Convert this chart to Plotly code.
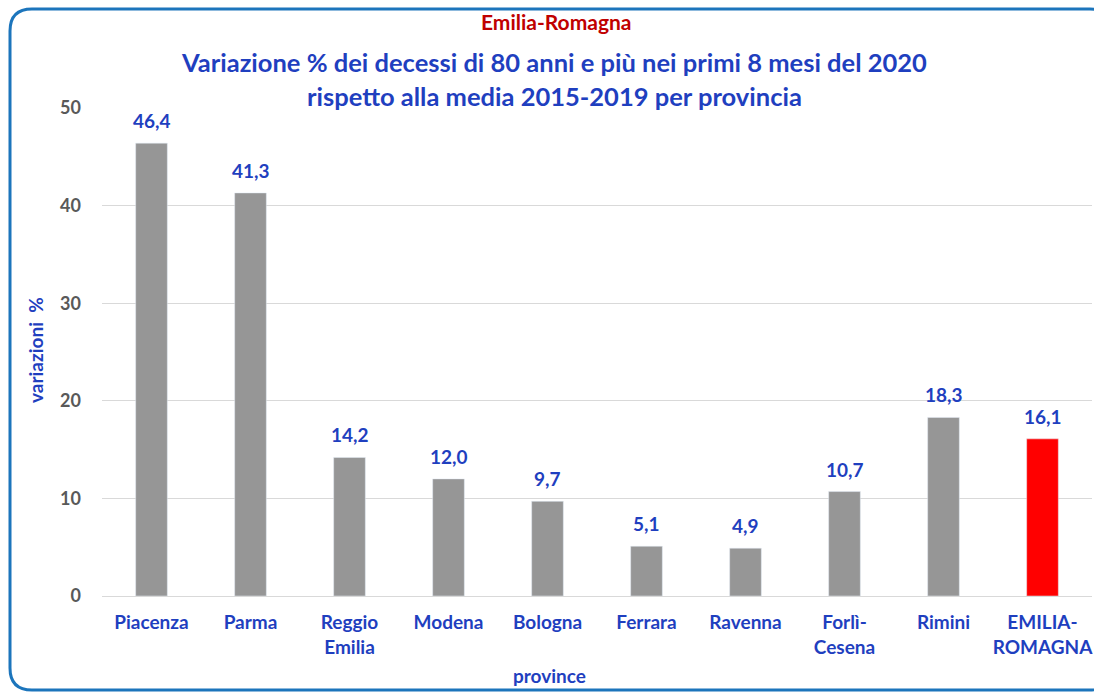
import plotly.graph_objects as go

categories = ["Piacenza", "Parma", "Reggio<br>Emilia", "Modena", "Bologna", "Ferrara",
              "Ravenna", "Forlì-<br>Cesena", "Rimini", "EMILIA-<br>ROMAGNA"]
values = [46.4, 41.3, 14.2, 12.0, 9.7, 5.1, 4.9, 10.7, 18.3, 16.1]
labels = ["46,4", "41,3", "14,2", "12,0", "9,7", "5,1", "4,9", "10,7", "18,3", "16,1"]
bar_colors = ["#969696"] * 9 + ["#FF0000"]
y_ticks = [0, 10, 20, 30, 40, 50]

W, H = 1094, 692
L, R, T, B = 102, 2, 108, 96
pw, ph = W - L - R, H - T - B

def px(x):
    return (x - L) / pw

def py(y):
    return (H - B - y) / ph

FONT = "Lato"
BLUE = "#1F3FBF"

fig = go.Figure()
fig.add_trace(go.Bar(
    x=categories, y=values, marker_color=bar_colors, width=0.32,
    hoverinfo="skip",
))

# rounded border (right and bottom edges run off the page, as in the reference)
x0, x1, y0, y1 = px(10), px(1112), py(9), py(690)
rx, ry = 22 / pw, 22 / ph
path = (f"M {x0+rx},{y0} L {x1-rx},{y0} Q {x1},{y0} {x1},{y0-ry} "
        f"L {x1},{y1+ry} Q {x1},{y1} {x1-rx},{y1} L {x0+rx},{y1} "
        f"Q {x0},{y1} {x0},{y1+ry} L {x0},{y0-ry} Q {x0},{y0} {x0+rx},{y0} Z")
fig.add_shape(type="path", xref="paper", yref="paper", path=path,
              line=dict(color="#1C75BC", width=3), layer="below")

annotations = [
    dict(text="Emilia-Romagna", x=px(556), y=py(22), font=dict(size=21, color="#C00000", family=FONT, weight="bold")),
    dict(text="Variazione % dei decessi di 80 anni e più nei primi 8 mesi del 2020",
         x=px(554), y=py(62), font=dict(size=25.5, color=BLUE, family=FONT, weight="bold")),
    dict(text="rispetto alla media 2015-2019 per provincia",
         x=px(554), y=py(96), font=dict(size=25.5, color=BLUE, family=FONT, weight="bold")),
    dict(text="province", x=px(549), y=py(675), font=dict(size=19, color=BLUE, family=FONT, weight="bold")),
    dict(text="variazioni  %", x=px(35), y=py(350), textangle=-90,
         font=dict(size=19, color=BLUE, family=FONT, weight="bold")),
]
for a in annotations:
    a.update(xref="paper", yref="paper", showarrow=False, xanchor="center", yanchor="middle")

for c, v, t in zip(categories, values, labels):
    annotations.append(dict(x=c, y=v, xref="x", yref="y", text=t, showarrow=False,
                            xanchor="center", yanchor="bottom", yshift=9,
                            font=dict(size=19, color=BLUE, family=FONT, weight="bold")))
fig.update_layout(annotations=annotations)

fig.update_layout(
    width=W, height=H, margin=dict(l=L, r=R, t=T, b=B, autoexpand=False),
    paper_bgcolor="white", plot_bgcolor="white", showlegend=False,
)
fig.update_xaxes(showline=True, linecolor="#D9D9D9", linewidth=1, ticks="",
                 tickfont=dict(family=FONT, size=19, color=BLUE, weight="bold"),
                 ticklabelstandoff=9, fixedrange=True)
fig.update_yaxes(range=[0, 50], tickvals=y_ticks, showgrid=True, gridcolor="#D9D9D9",
                 zeroline=False, showline=False, ticks="",
                 tickfont=dict(family=FONT, size=18, color="#595959", weight="bold"),
                 ticklabelstandoff=20, fixedrange=True)

fig.write_html("out.html", config={"displayModeBar": False},
               post_script="document.body.style.margin='0';document.body.style.overflow='hidden';")
